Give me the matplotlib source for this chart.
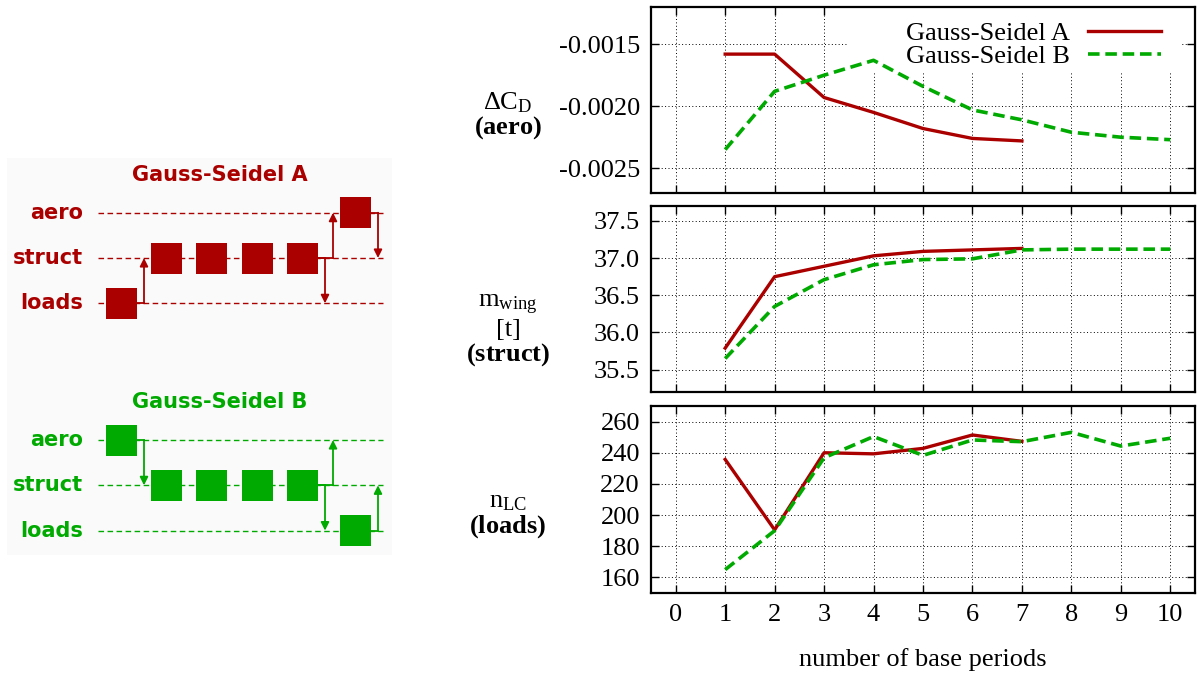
import matplotlib
matplotlib.use('Agg')
import matplotlib.pyplot as plt
from matplotlib.patches import Rectangle
from matplotlib.ticker import FormatStrFormatter

# ---- convergence history ----
periods_a = [1, 2, 3, 4, 5, 6, 7]
periods_b = [1, 2, 3, 4, 5, 6, 7, 8, 9, 10]
dcd_a = [-0.00158, -0.00158, -0.00193, -0.00205, -0.00218, -0.00226, -0.00228]
dcd_b = [-0.00235, -0.00188, -0.00175, -0.00163, -0.00184, -0.00203, -0.00211,
         -0.00221, -0.00225, -0.00227]
mwing_a = [35.79, 36.75, 36.89, 37.03, 37.09, 37.11, 37.13]
mwing_b = [35.65, 36.35, 36.71, 36.91, 36.98, 36.99, 37.11, 37.12, 37.12, 37.12]
nlc_a = [235.7, 190.5, 240.0, 239.3, 242.8, 251.4, 247.3]
nlc_b = [165.0, 190.0, 236.8, 250.4, 238.3, 248.2, 247.1, 253.1, 244.3, 249.3]

xticks = list(range(0, 11))
yticks_cd = [-0.0025, -0.0020, -0.0015]
yticks_m = [35.5, 36.0, 36.5, 37.0, 37.5]
yticks_n = [160, 180, 200, 220, 240, 260]

# ---- scheme diagram (order of discipline calls per step) ----
rows = ['aero', 'struct', 'loads']
order_a = ['loads', 'struct', 'struct', 'struct', 'struct', 'aero']
order_b = ['aero', 'struct', 'struct', 'struct', 'struct', 'loads']
# (step after which the transfer happens, from, to, slot)
arrows_a = [(0, 'loads', 'struct', 0), (4, 'struct', 'loads', 0),
            (4, 'struct', 'aero', 1), (5, 'aero', 'struct', 0)]
arrows_b = [(0, 'aero', 'struct', 0), (4, 'struct', 'loads', 0),
            (4, 'struct', 'aero', 1), (5, 'loads', 'struct', 0)]

RED = '#aa0000'
GREEN = '#00aa00'

plt.rcParams['axes.unicode_minus'] = False
plt.rcParams['mathtext.fontset'] = 'custom'
plt.rcParams['mathtext.rm'] = 'Liberation Serif'
plt.rcParams['mathtext.it'] = 'Liberation Serif:italic'
plt.rcParams['mathtext.bf'] = 'Liberation Serif:bold'

W, H = 1199, 677
fig = plt.figure(figsize=(W / 100, H / 100), dpi=100)

# diagram drawn on a pixel-frame overlay
dax = fig.add_axes([0, 0, 1, 1])
dax.set_xlim(0, W)
dax.set_ylim(H, 0)
dax.axis('off')
dax.add_patch(Rectangle((7, 158), 385, 397, color='#fafafa', lw=0, zorder=0))

col_x = [121.5, 166.5, 211.5, 257.5, 302.5, 355.5]
box = 31


def draw_scheme(title, order, arrows, y0, color):
    ty = y0 - 38
    ry = {r: y0 + 45.3 * i for i, r in enumerate(rows)}
    dax.text(220, ty, title, color=color, fontsize=15, fontweight='bold',
             family='DejaVu Sans', ha='center', va='center')
    for r in rows:
        dax.text(83, ry[r], r, color=color, fontsize=15, fontweight='bold',
                 family='DejaVu Sans', ha='right', va='center')
        dax.plot([98, 383], [ry[r], ry[r]], color=color, lw=1.0,
                 dashes=(4, 2.5), zorder=1)
    for i, r in enumerate(order):
        dax.add_patch(Rectangle((col_x[i] - box / 2, ry[r] - box / 2), box, box,
                                color=color, lw=0, zorder=3))
    for step, src, dst, slot in arrows:
        ax_x = col_x[step] + box / 2 + 7 + 8 * slot
        dax.plot([col_x[step] + box / 2, ax_x], [ry[src], ry[src]],
                 color=color, lw=1.3, zorder=2)
        dax.annotate('', xy=(ax_x, ry[dst]), xytext=(ax_x, ry[src]),
                     arrowprops=dict(arrowstyle='-|>', color=color, lw=1.3,
                                     mutation_scale=12, shrinkA=0, shrinkB=0),
                     zorder=2)


draw_scheme('Gauss-Seidel A', order_a, arrows_a, 212.7, RED)
draw_scheme('Gauss-Seidel B', order_b, arrows_b, 440, GREEN)

# ---- convergence panels ----
SERIF = 'Liberation Serif'
FS = 19


def panel(top, bottom):
    ax = fig.add_axes([651 / W, 1 - bottom / H, (1195 - 651) / W, (bottom - top) / H])
    ax.set_xlim(-0.5, 10.5)
    ax.set_xticks(xticks)
    ax.set_axisbelow(True)
    ax.grid(True, color='black', lw=0.7, linestyle=(0, (1, 2.5)))
    ax.tick_params(direction='in', top=True, right=True, length=6, width=1,
                   labelsize=FS, pad=8)
    for s in ax.spines.values():
        s.set_linewidth(1.6)
    return ax


ax1 = panel(7, 193)
ax2 = panel(206, 392)
ax3 = panel(406, 593)

lkw_a = dict(color=RED, lw=2.4, zorder=3)
lkw_b = dict(color=GREEN, lw=2.6, dashes=(3.2, 1.6), zorder=3)

ax1.plot(periods_a, dcd_a, label='Gauss-Seidel A', **lkw_a)
ax1.plot(periods_b, dcd_b, label='Gauss-Seidel B', **lkw_b)
ax1.set_ylim(-0.0027, -0.0012)
ax1.set_yticks(yticks_cd)
ax1.yaxis.set_major_formatter(FormatStrFormatter('%.4f'))
# key area hides grid, like gnuplot
ax1.add_patch(Rectangle((0.362, 0.65), 0.61, 0.35, transform=ax1.transAxes,
                        color='white', lw=0, zorder=1))
leg = ax1.legend(loc='upper right', bbox_to_anchor=(0.969, 1.015),
                 frameon=False, markerfirst=False,
                 prop={'family': SERIF, 'size': FS}, handlelength=2.75,
                 handletextpad=0.7, labelspacing=0.0, borderaxespad=0.3,
                 borderpad=0.35)
leg.set_zorder(4)

ax2.plot(periods_a, mwing_a, **lkw_a)
ax2.plot(periods_b, mwing_b, **lkw_b)
ax2.set_ylim(35.2, 37.7)
ax2.set_yticks(yticks_m)
ax2.yaxis.set_major_formatter(FormatStrFormatter('%.1f'))

ax3.plot(periods_a, nlc_a, **lkw_a)
ax3.plot(periods_b, nlc_b, **lkw_b)
ax3.set_ylim(150, 270)
ax3.set_yticks(yticks_n)

for ax in (ax1, ax2):
    ax.tick_params(labelbottom=False)
for ax in (ax1, ax2, ax3):
    for lab in ax.get_xticklabels() + ax.get_yticklabels():
        lab.set_family(SERIF)

fig.text(923 / W, 1 - 660 / H, 'number of base periods', family=SERIF,
         fontsize=FS, ha='center', va='center')

ylab = [
    (103, r'$\mathrm{\Delta C}_\mathrm{D}$'), (128, r'$\mathbf{(aero)}$'),
    (305, r'$\mathrm{m}_\mathrm{wing}$'), (330, '[t]'), (355, r'$\mathbf{(struct)}$'),
    (502, r'$\mathrm{n}_\mathrm{LC}$'), (527, r'$\mathbf{(loads)}$'),
]
for y, s in ylab:
    fig.text(508 / W, 1 - y / H, s, family=SERIF, fontsize=FS,
             ha='center', va='center')

fig.savefig('out.png', dpi=100)
